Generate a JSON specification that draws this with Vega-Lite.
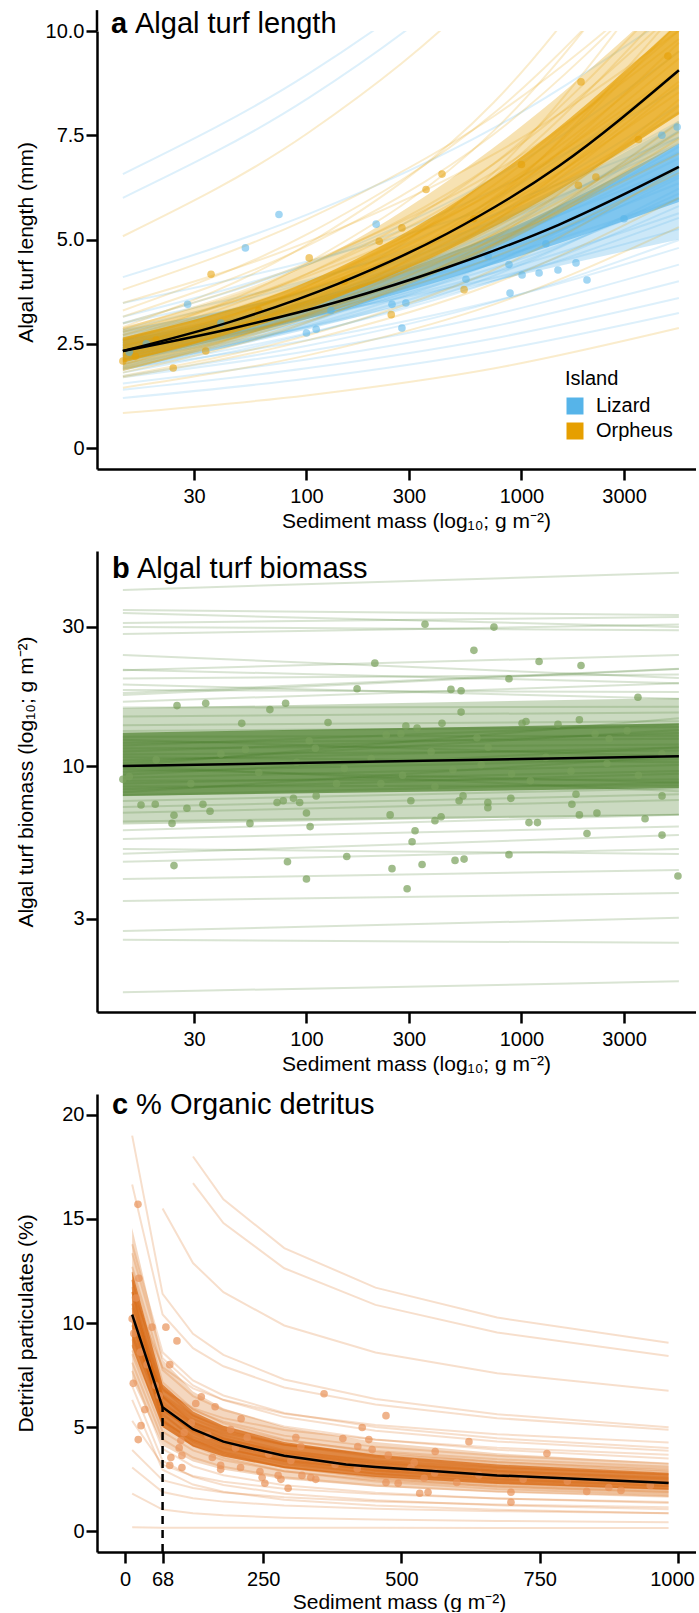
{
"$schema":"https://vega.github.io/schema/vega-lite/v6.json",
"padding":{"top":8,"left":15,"right":0,"bottom":0},
"bounds":"flush",
"spacing":82,
"config":{
 "view":{"stroke":null},
 "font":"Liberation Sans",
 "axis":{"domainColor":"black","domainWidth":2.5,"tickColor":"black","tickWidth":2.5,"tickSize":11,"labelColor":"black","labelFontSize":20,"titleFontSize":21,"titleFontWeight":"normal","titleColor":"black","grid":false,"labelFlush":false,"labelOverlap":false,"labelBound":false,"titleBaseline":"alphabetic"},
 "legend":{"labelFontSize":20,"titleFontSize":20,"titleFontWeight":"normal","labelColor":"black","titleColor":"black"}
},
"vconcat":[
{
"width":599,"height":438,
"layer":[
 {"data":{"values":[{"x":14,"lo":1.9,"hi":2.85},{"x":102,"lo":2.85,"hi":3.8},{"x":741,"lo":4.0,"hi":5.5},{"x":5400,"lo":5.0,"hi":7.8}]},
 "mark":{"type":"area","color":"#56B4E9","opacity":0.3,"interpolate":"monotone","clip":true},
 "encoding":{
  "x":{"field":"x","type":"quantitative","scale":{"type":"log","domain":[10.61,6486],"nice":false},"axis":{"values":[30,100,300,1000,3000],"format":"d","titleY":58,"titleX":319,"labelPadding":6},"title":"Sediment mass (log₁₀; g m⁻²)"},
  "y":{"field":"lo","type":"quantitative","scale":{"domain":[-0.5,10],"nice":false,"zero":false},"axis":{"values":[0,2.5,5,7.5,10],"labelExpr":"datum.value === 0 ? '0' : format(datum.value, '.1f')","titleX":-65,"titleY":211,"labelPadding":2},"title":"Algal turf length (mm)"},
  "y2":{"field":"hi"}
 }},
 {"data":{"values":[{"x":14,"lo":2.1,"hi":2.6},{"x":102,"lo":3.1,"hi":3.55},{"x":741,"lo":4.4,"hi":5.1},{"x":5400,"lo":5.9,"hi":7.3}]},
 "mark":{"type":"area","color":"#56B4E9","opacity":0.65,"interpolate":"monotone","clip":true},
 "encoding":{"x":{"field":"x","type":"quantitative"},"y":{"field":"lo","type":"quantitative"},"y2":{"field":"hi"}}},
 {"data":{"values":[
  {"id":1,"y0":2.33,"y1":3.32,"y2":4.73,"y3":6.74},
  {"id":2,"y0":2.45,"y1":3.47,"y2":4.91,"y3":6.95},
  {"id":3,"y0":2.22,"y1":3.18,"y2":4.56,"y3":6.54},
  {"id":4,"y0":2.58,"y1":3.61,"y2":5.06,"y3":7.09},
  {"id":5,"y0":2.11,"y1":3.06,"y2":4.45,"y3":6.48},
  {"id":6,"y0":2.52,"y1":3.43,"y2":4.67,"y3":6.35},
  {"id":7,"y0":2.15,"y1":3.22,"y2":4.83,"y3":7.23},
  {"id":8,"y0":2.71,"y1":3.79,"y2":5.32,"y3":7.45},
  {"id":9,"y0":2.01,"y1":2.91,"y2":4.21,"y3":6.10},
  {"id":10,"y0":2.63,"y1":3.46,"y2":4.54,"y3":5.98},
  {"id":11,"y0":2.07,"y1":3.19,"y2":4.92,"y3":7.60},
  {"id":12,"y0":2.85,"y1":3.99,"y2":5.59,"y3":7.83},
  {"id":13,"y0":1.91,"y1":2.76,"y2":4.00,"y3":5.80},
  {"id":14,"y0":2.40,"y1":3.53,"y2":5.18,"y3":7.60},
  {"id":15,"y0":2.26,"y1":3.13,"y2":4.32,"y3":5.98},
  {"id":16,"y0":2.79,"y1":3.74,"y2":5.02,"y3":6.74},
  {"id":17,"y0":1.95,"y1":2.94,"y2":4.45,"y3":6.74},
  {"id":18,"y0":2.33,"y1":3.53,"y2":5.33,"y3":8.07},
  {"id":19,"y0":2.33,"y1":3.13,"y2":4.20,"y3":5.63},
  {"id":20,"y0":2.99,"y1":4.03,"y2":5.42,"y3":7.30},
  {"id":21,"y0":1.81,"y1":2.74,"y2":4.13,"y3":6.22},
  {"id":22,"y0":2.58,"y1":3.79,"y2":5.59,"y3":8.23},
  {"id":23,"y0":2.11,"y1":2.91,"y2":4.00,"y3":5.52},
  {"id":24,"y0":3.15,"y1":4.41,"y2":6.18,"y3":8.65},
  {"id":25,"y0":1.73,"y1":2.46,"y2":3.50,"y3":4.99},
  {"id":26,"y0":3.48,"y1":4.48,"y2":5.78,"y3":7.45},
  {"id":27,"y0":2.47,"y1":3.18,"y2":4.08,"y3":5.25},
  {"id":28,"y0":1.87,"y1":3.01,"y2":4.86,"y3":7.83},
  {"id":29,"y0":6.57,"y1":8.97,"y2":12.24,"y3":16.7},
  {"id":30,"y0":6.0,"y1":8.39,"y2":11.73,"y3":16.4},
  {"id":31,"y0":1.2,"y1":1.67,"y2":2.33,"y3":3.24},
  {"id":32,"y0":1.4,"y1":1.92,"y2":2.63,"y3":3.6},
  {"id":33,"y0":1.55,"y1":2.13,"y2":2.92,"y3":4.0},
  {"id":34,"y0":1.7,"y1":2.33,"y2":3.2,"y3":4.4},
  {"id":35,"y0":4.1,"y1":5.61,"y2":7.67,"y3":10.5},
  {"id":36,"y0":3.0,"y1":4.41,"y2":6.47,"y3":9.5},
  {"id":37,"y0":2.6,"y1":3.93,"y2":5.95,"y3":9.0},
  {"id":38,"y0":1.9,"y1":2.59,"y2":3.52,"y3":4.8}
 ]},
 "transform":[{"fold":["y0","y1","y2","y3"]},{"lookup":"key","from":{"data":{"values":[{"key":"y0","x":14},{"key":"y1","x":102},{"key":"y2","x":741},{"key":"y3","x":5400}]},"key":"key","fields":["x"]}}],
 "mark":{"type":"line","strokeWidth":2,"opacity":0.2,"interpolate":"monotone","clip":true,"color":"#56B4E9"},
 "encoding":{"x":{"field":"x","type":"quantitative"},"y":{"field":"value","type":"quantitative"},"detail":{"field":"id"}}},
 {"data":{"values":[{"x":14,"lo":1.85,"hi":2.9},{"x":102,"lo":3.1,"hi":4.4},{"x":741,"lo":4.8,"hi":7.2},{"x":5400,"lo":7.3,"hi":11.0}]},
 "mark":{"type":"area","color":"#E69F00","opacity":0.3,"interpolate":"monotone","clip":true},
 "encoding":{"x":{"field":"x","type":"quantitative"},"y":{"field":"lo","type":"quantitative"},"y2":{"field":"hi"}}},
 {"data":{"values":[{"x":14,"lo":2.05,"hi":2.65},{"x":102,"lo":3.35,"hi":4.0},{"x":741,"lo":5.3,"hi":6.5},{"x":5400,"lo":8.0,"hi":10.2}]},
 "mark":{"type":"area","color":"#E69F00","opacity":0.65,"interpolate":"monotone","clip":true},
 "encoding":{"x":{"field":"x","type":"quantitative"},"y":{"field":"lo","type":"quantitative"},"y2":{"field":"hi"}}},
 {"data":{"values":[
  {"id":101,"y0":2.33,"y1":3.66,"y2":5.76,"y3":9.06},
  {"id":102,"y0":2.45,"y1":3.83,"y2":5.98,"y3":9.34},
  {"id":103,"y0":2.22,"y1":3.51,"y2":5.55,"y3":8.79},
  {"id":104,"y0":2.58,"y1":3.98,"y2":6.16,"y3":9.52},
  {"id":105,"y0":2.11,"y1":3.38,"y2":5.43,"y3":8.70},
  {"id":106,"y0":2.52,"y1":3.79,"y2":5.69,"y3":8.53},
  {"id":107,"y0":2.15,"y1":3.56,"y2":5.88,"y3":9.72},
  {"id":108,"y0":2.71,"y1":4.19,"y2":6.48,"y3":10.01},
  {"id":109,"y0":2.01,"y1":3.21,"y2":5.13,"y3":8.20},
  {"id":110,"y0":2.63,"y1":3.81,"y2":5.54,"y3":8.04},
  {"id":111,"y0":2.07,"y1":3.52,"y2":6.00,"y3":10.21},
  {"id":112,"y0":2.85,"y1":4.40,"y2":6.81,"y3":10.53},
  {"id":113,"y0":1.91,"y1":3.05,"y2":4.88,"y3":7.80},
  {"id":114,"y0":2.40,"y1":3.89,"y2":6.30,"y3":10.21},
  {"id":115,"y0":2.26,"y1":3.45,"y2":5.27,"y3":8.04},
  {"id":116,"y0":2.79,"y1":4.13,"y2":6.12,"y3":9.06},
  {"id":117,"y0":1.95,"y1":3.25,"y2":5.43,"y3":9.06},
  {"id":118,"y0":2.33,"y1":3.89,"y2":6.50,"y3":10.85},
  {"id":119,"y0":2.33,"y1":3.45,"y2":5.11,"y3":7.57},
  {"id":120,"y0":2.99,"y1":4.45,"y2":6.61,"y3":9.81},
  {"id":121,"y0":1.81,"y1":3.02,"y2":5.03,"y3":8.36},
  {"id":122,"y0":2.58,"y1":4.19,"y2":6.81,"y3":11.07},
  {"id":123,"y0":2.11,"y1":3.21,"y2":4.88,"y3":7.42},
  {"id":124,"y0":3.15,"y1":4.86,"y2":7.52,"y3":11.63},
  {"id":125,"y0":1.73,"y1":2.71,"y2":4.27,"y3":6.71},
  {"id":126,"y0":3.48,"y1":4.95,"y2":7.04,"y3":10.01},
  {"id":127,"y0":2.47,"y1":3.51,"y2":4.98,"y3":7.06},
  {"id":128,"y0":1.87,"y1":3.33,"y2":5.92,"y3":10.53},
  {"id":129,"y0":5.08,"y1":7.56,"y2":11.23,"y3":16.7},
  {"id":130,"y0":0.84,"y1":1.27,"y2":1.91,"y3":2.88},
  {"id":131,"y0":1.7,"y1":2.59,"y2":3.94,"y3":6.0},
  {"id":132,"y0":1.45,"y1":2.23,"y2":3.44,"y3":5.3},
  {"id":133,"y0":3.3,"y1":5.14,"y2":8.02,"y3":12.5},
  {"id":134,"y0":2.9,"y1":4.9,"y2":8.28,"y3":14},
  {"id":135,"y0":3.8,"y1":5.5,"y2":7.95,"y3":11.5},
  {"id":136,"y0":2.0,"y1":3.63,"y2":6.6,"y3":12},
  {"id":137,"y0":2.6,"y1":4.45,"y2":7.6,"y3":13},
  {"id":138,"y0":2.2,"y1":3.17,"y2":4.58,"y3":6.6}
 ]},
 "transform":[{"fold":["y0","y1","y2","y3"]},{"lookup":"key","from":{"data":{"values":[{"key":"y0","x":14},{"key":"y1","x":102},{"key":"y2","x":741},{"key":"y3","x":5400}]},"key":"key","fields":["x"]}}],
 "mark":{"type":"line","strokeWidth":2,"opacity":0.2,"interpolate":"monotone","clip":true,"color":"#E69F00"},
 "encoding":{"x":{"field":"x","type":"quantitative"},"y":{"field":"value","type":"quantitative"},"detail":{"field":"id"}}},
 {"data":{"values":[
  {"g":"Lizard","x":74.5,"y":5.6},{"g":"Lizard","x":52,"y":4.8},{"g":"Lizard","x":28,"y":3.45},{"g":"Lizard","x":100,"y":2.76},{"g":"Lizard","x":111,"y":2.85},{"g":"Lizard","x":211,"y":5.37},{"g":"Lizard","x":1794,"y":4.44},{"g":"Lizard","x":1479,"y":4.27},{"g":"Lizard","x":1208,"y":4.2},{"g":"Lizard","x":1007,"y":4.15},{"g":"Lizard","x":2018,"y":4.03},{"g":"Lizard","x":885,"y":3.72},{"g":"Lizard","x":875,"y":4.4},{"g":"Lizard","x":552,"y":4.05},{"g":"Lizard","x":250,"y":3.45},{"g":"Lizard","x":290,"y":3.48},{"g":"Lizard","x":278,"y":2.88},{"g":"Lizard","x":5300,"y":7.7},{"g":"Lizard","x":4500,"y":7.5},{"g":"Lizard","x":15,"y":2.3},{"g":"Lizard","x":18,"y":2.5},{"g":"Lizard","x":40,"y":3.0},{"g":"Lizard","x":130,"y":3.3},{"g":"Lizard","x":700,"y":4.6},{"g":"Lizard","x":1300,"y":4.9},{"g":"Lizard","x":3000,"y":5.5},
  {"g":"Orpheus","x":36,"y":4.17},{"g":"Orpheus","x":103,"y":4.56},{"g":"Orpheus","x":24,"y":1.92},{"g":"Orpheus","x":14,"y":2.09},{"g":"Orpheus","x":34,"y":2.33},{"g":"Orpheus","x":1893,"y":8.78},{"g":"Orpheus","x":427,"y":6.57},{"g":"Orpheus","x":360,"y":6.2},{"g":"Orpheus","x":278,"y":5.28},{"g":"Orpheus","x":218,"y":4.96},{"g":"Orpheus","x":3500,"y":7.4},{"g":"Orpheus","x":2220,"y":6.5},{"g":"Orpheus","x":1840,"y":6.3},{"g":"Orpheus","x":541,"y":3.8},{"g":"Orpheus","x":248,"y":3.2},{"g":"Orpheus","x":16,"y":2.2},{"g":"Orpheus","x":20,"y":2.6},{"g":"Orpheus","x":60,"y":3.3},{"g":"Orpheus","x":150,"y":4.0},{"g":"Orpheus","x":600,"y":5.5},{"g":"Orpheus","x":1000,"y":6.8},{"g":"Orpheus","x":4800,"y":9.4}
 ]},
 "mark":{"type":"circle","size":58,"opacity":0.55},
 "encoding":{
  "x":{"field":"x","type":"quantitative"},
  "y":{"field":"y","type":"quantitative"},
  "fill":{"field":"g","type":"nominal","scale":{"domain":["Lizard","Orpheus"],"range":["#56B4E9","#E69F00"]},"legend":{"title":"Island","orient":"none","legendX":468,"legendY":338,"symbolType":"square","symbolSize":289,"symbolOpacity":1,"symbolStrokeWidth":0,"labelOffset":11,"rowPadding":5,"titlePadding":7,"labelFontSize":20,"titleFontSize":20}}
 }},
 {"data":{"values":[
  {"g":"Lizard","x":14,"y":2.33},{"g":"Lizard","x":45,"y":2.87},{"g":"Lizard","x":140,"y":3.51},{"g":"Lizard","x":450,"y":4.33},{"g":"Lizard","x":1500,"y":5.36},{"g":"Lizard","x":5400,"y":6.74},
  {"g":"Orpheus","x":14,"y":2.33},{"g":"Orpheus","x":45,"y":3.04},{"g":"Orpheus","x":140,"y":3.94},{"g":"Orpheus","x":450,"y":5.14},{"g":"Orpheus","x":1500,"y":6.77},{"g":"Orpheus","x":5400,"y":9.06}
 ]},
 "mark":{"type":"line","color":"black","strokeWidth":2.5,"interpolate":"monotone"},
 "encoding":{"x":{"field":"x","type":"quantitative"},"y":{"field":"y","type":"quantitative"},"detail":{"field":"g"}}},
 {"data":{"values":[{"x":10.61,"y":10,"y2":10.5}]},
 "mark":{"type":"rule","color":"black","strokeWidth":2.5},
 "encoding":{"x":{"field":"x","type":"quantitative"},"y":{"field":"y","type":"quantitative"},"y2":{"field":"y2"}}},
 {"data":{"values":[{"x":12.33,"y":9.95,"t":"a"}]},
 "mark":{"type":"text","fontSize":29,"fontWeight":"bold","align":"left","baseline":"alphabetic","color":"black"},
 "encoding":{"x":{"field":"x","type":"quantitative"},"y":{"field":"y","type":"quantitative"},"text":{"field":"t"}}},
 {"data":{"values":[{"x":15.94,"y":9.95,"t":"Algal turf length"}]},
 "mark":{"type":"text","fontSize":29,"align":"left","baseline":"alphabetic","color":"black"},
 "encoding":{"x":{"field":"x","type":"quantitative"},"y":{"field":"y","type":"quantitative"},"text":{"field":"t"}}}
]
},
{
"width":599,"height":461,
"layer":[
 {"data":{"values":[{"x":14,"lo":6.3,"hi":15.8},{"x":5400,"lo":6.8,"hi":17.1}]},
 "mark":{"type":"area","color":"#437a22","opacity":0.28},
 "encoding":{
  "x":{"field":"x","type":"quantitative","scale":{"type":"log","domain":[10.61,6486],"nice":false},"axis":{"values":[30,100,300,1000,3000],"format":"d","titleY":58,"titleX":319,"labelPadding":6},"title":"Sediment mass (log₁₀; g m⁻²)"},
  "y":{"field":"lo","type":"quantitative","scale":{"type":"log","domain":[1.437,54.5],"nice":false},"axis":{"values":[3,10,30],"format":"d","titleX":-65,"labelPadding":2},"title":"Algal turf biomass (log₁₀; g m⁻²)"},
  "y2":{"field":"hi"}
 }},
 {"data":{"values":[{"x":14,"lo":7.9,"hi":13.0},{"x":5400,"lo":8.4,"hi":14.0}]},
 "mark":{"type":"area","color":"#437a22","opacity":0.65},
 "encoding":{"x":{"field":"x","type":"quantitative"},"y":{"field":"lo","type":"quantitative"},"y2":{"field":"hi"}}},
 {"data":{"values":[
  {"id":1,"y0":10.0,"y1":10.8},{"id":2,"y0":10.47,"y1":11.58},{"id":3,"y0":9.55,"y1":10.55},{"id":4,"y0":10.96,"y1":11.3},{"id":5,"y0":9.12,"y1":10.08},{"id":6,"y0":11.48,"y1":11.84},{"id":7,"y0":8.71,"y1":9.62},{"id":8,"y0":10.72,"y1":10.31},{"id":9,"y0":9.33,"y1":11.58},{"id":10,"y0":12.02,"y1":12.4},{"id":11,"y0":8.32,"y1":9.41},{"id":12,"y0":11.22,"y1":12.98},{"id":13,"y0":8.91,"y1":8.99},{"id":14,"y0":12.59,"y1":12.69},{"id":15,"y0":7.94,"y1":8.78},{"id":16,"y0":11.75,"y1":13.91},{"id":17,"y0":8.51,"y1":8.58},{"id":18,"y0":13.18,"y1":13.6},{"id":19,"y0":7.59,"y1":8.38},{"id":20,"y0":10.23,"y1":13.28},{"id":21,"y0":9.77,"y1":8.78},{"id":22,"y0":12.3,"y1":10.8},{"id":23,"y0":8.13,"y1":10.8},{"id":24,"y0":13.8,"y1":14.23},{"id":25,"y0":7.24,"y1":8.0},{"id":26,"y0":10.0,"y1":14.57},{"id":27,"y0":10.0,"y1":8.2},
  {"id":28,"y0":14.79,"y1":15.26},{"id":29,"y0":6.92,"y1":7.65},{"id":30,"y0":15.85,"y1":15.97},{"id":31,"y0":6.46,"y1":6.81},{"id":32,"y0":16.6,"y1":19.2},{"id":33,"y0":6.03,"y1":6.81},{"id":34,"y0":18.2,"y1":17.93},{"id":35,"y0":5.62,"y1":6.21},{"id":36,"y0":19.95,"y1":20.57},{"id":37,"y0":5.01,"y1":5.8},{"id":38,"y0":17.78,"y1":21.55},{"id":39,"y0":21.38,"y1":19.2},
  {"id":40,"y0":34.2,"y1":32.9},{"id":41,"y0":33.4,"y1":29.9},{"id":42,"y0":30.9,"y1":32.4},{"id":43,"y0":29.9,"y1":29.2},{"id":44,"y0":28.3,"y1":30.5},{"id":45,"y0":40.1,"y1":45.9},{"id":46,"y0":4.1,"y1":4.4},{"id":47,"y0":3.45,"y1":3.67},{"id":48,"y0":2.72,"y1":3.02},{"id":49,"y0":2.54,"y1":2.48},{"id":50,"y0":1.68,"y1":1.83},{"id":51,"y0":21.3,"y1":24},{"id":52,"y0":19,"y1":17},{"id":53,"y0":4.7,"y1":5.2},{"id":54,"y0":5.2,"y1":5.0},{"id":55,"y0":24,"y1":20},{"id":56,"y0":17.5,"y1":21.5}
 ]},
 "transform":[{"fold":["y0","y1"]},{"lookup":"key","from":{"data":{"values":[{"key":"y0","x":14},{"key":"y1","x":5400}]},"key":"key","fields":["x"]}}],
 "mark":{"type":"line","strokeWidth":2,"opacity":0.2,"color":"#437a22"},
 "encoding":{"x":{"field":"x","type":"quantitative"},"y":{"field":"value","type":"quantitative"},"detail":{"field":"id"}}},
 {"data":{"values":[
  {"x":25,"y":16.1},{"x":34,"y":16.4},{"x":50,"y":14.0},{"x":67.6,"y":15.6},{"x":80,"y":16.4},{"x":126,"y":14.1},{"x":103,"y":12.2},{"x":52,"y":11.4},{"x":14,"y":9.0},
  {"x":356,"y":30.6},{"x":745,"y":29.9},{"x":208,"y":22.5},{"x":601,"y":24.9},{"x":1208,"y":22.8},{"x":1893,"y":22.1},{"x":172,"y":18.4},{"x":470,"y":18.3},{"x":524,"y":18.1},{"x":875,"y":19.9},{"x":3483,"y":17.2},{"x":524,"y":15.3},{"x":290,"y":13.7},{"x":327,"y":13.5},{"x":235,"y":12.8},{"x":275,"y":12.9},{"x":427,"y":14.0},{"x":1007,"y":14.0},{"x":1050,"y":14.2},{"x":1479,"y":13.9},{"x":1860,"y":14.4},{"x":621,"y":12.5},{"x":2200,"y":12.9},{"x":3100,"y":13.2},{"x":2560,"y":12.4},
  {"x":17,"y":7.35},{"x":19.8,"y":7.4},{"x":24.2,"y":6.78},{"x":23.7,"y":6.36},{"x":27.8,"y":7.17},{"x":33,"y":7.4},{"x":35.6,"y":7.0},{"x":54.6,"y":6.36},{"x":73,"y":7.5},{"x":78,"y":7.6},{"x":87,"y":7.75},{"x":93,"y":7.5},{"x":111,"y":7.9},{"x":100,"y":6.9},{"x":104,"y":6.2},{"x":24.2,"y":4.56},{"x":81.6,"y":4.7},{"x":100,"y":4.1},{"x":154,"y":4.9},{"x":138,"y":8.7},{"x":29,"y":8.7},
  {"x":222,"y":8.7},{"x":396,"y":8.5},{"x":306,"y":7.6},{"x":245,"y":6.8},{"x":513,"y":7.6},{"x":535,"y":7.9},{"x":698,"y":7.5},{"x":698,"y":7.2},{"x":893,"y":7.75},{"x":1794,"y":8.0},{"x":1717,"y":7.4},{"x":1860,"y":6.8},{"x":2245,"y":6.9},{"x":4508,"y":7.9},{"x":3758,"y":6.6},{"x":4508,"y":5.8},{"x":2018,"y":5.87},{"x":1084,"y":6.4},{"x":1187,"y":6.4},{"x":396,"y":6.5},{"x":423,"y":6.7},{"x":320,"y":6.0},{"x":310,"y":5.5},{"x":250,"y":4.45},{"x":345,"y":4.6},{"x":491,"y":4.75},{"x":541,"y":4.8},{"x":875,"y":4.97},{"x":294,"y":3.8},{"x":5346,"y":4.2},
  {"x":15,"y":9.2},{"x":20,"y":10.5},{"x":40,"y":11},{"x":60,"y":9.5},{"x":90,"y":10.3},{"x":150,"y":9.8},{"x":200,"y":10.6},{"x":280,"y":9.3},{"x":380,"y":11.2},{"x":480,"y":9.7},{"x":650,"y":10.1},{"x":900,"y":9.4},{"x":1300,"y":10.7},{"x":1700,"y":9.6},{"x":2500,"y":10.2},{"x":3500,"y":9.3},{"x":4500,"y":11},{"x":110,"y":11.5},{"x":700,"y":11.6},{"x":1100,"y":8.9}
 ]},
 "mark":{"type":"circle","size":58,"opacity":0.7,"color":"#77a05a"},
 "encoding":{"x":{"field":"x","type":"quantitative"},"y":{"field":"y","type":"quantitative"}}},
 {"data":{"values":[{"x":14,"y":10.0},{"x":5400,"y":10.8}]},
 "mark":{"type":"line","color":"black","strokeWidth":2.5},
 "encoding":{"x":{"field":"x","type":"quantitative"},"y":{"field":"y","type":"quantitative"}}},
 {"data":{"values":[{"x":12.47,"y":44.0,"t":"b"}]},
 "mark":{"type":"text","fontSize":29,"fontWeight":"bold","align":"left","baseline":"alphabetic","color":"black"},
 "encoding":{"x":{"field":"x","type":"quantitative"},"y":{"field":"y","type":"quantitative"},"text":{"field":"t"}}},
 {"data":{"values":[{"x":16.29,"y":44.0,"t":"Algal turf biomass"}]},
 "mark":{"type":"text","fontSize":29,"align":"left","baseline":"alphabetic","color":"black"},
 "encoding":{"x":{"field":"x","type":"quantitative"},"y":{"field":"y","type":"quantitative"},"text":{"field":"t"}}}
]
},
{
"width":599,"height":458,
"layer":[
 {"data":{"values":[{"x":13,"lo":7.28,"hi":14.56},{"x":68,"lo":4.12,"hi":8.23},{"x":123,"lo":3.35,"hi":6.71},{"x":178,"lo":2.95,"hi":5.91},{"x":288,"lo":2.5,"hi":5.0},{"x":453,"lo":2.14,"hi":4.28},{"x":673,"lo":1.87,"hi":3.74},{"x":983,"lo":1.64,"hi":3.28}]},
 "mark":{"type":"area","color":"#D55E00","opacity":0.25},
 "encoding":{
  "x":{"field":"x","type":"quantitative","scale":{"domain":[-50.6,1032.6],"nice":false,"zero":false},"axis":{"values":[0,68,250,500,750,1000],"format":"d","titleY":56,"titleX":302,"labelPadding":6,"labelOffset":{"condition":{"test":"datum.value === 1000","value":-6},"value":0}},"title":"Sediment mass (g m⁻²)"},
  "y":{"field":"lo","type":"quantitative","scale":{"domain":[-1,21],"nice":false,"zero":false},"axis":{"values":[0,5,10,15,20],"titleX":-65,"labelPadding":2},"title":"Detrital particulates (%)"},
  "y2":{"field":"hi"}
 }},
 {"data":{"values":[{"x":13,"lo":8.84,"hi":12.48},{"x":68,"lo":5.0,"hi":7.06},{"x":123,"lo":4.07,"hi":5.75},{"x":178,"lo":3.59,"hi":5.06},{"x":288,"lo":3.03,"hi":4.28},{"x":453,"lo":2.6,"hi":3.67},{"x":673,"lo":2.27,"hi":3.2},{"x":983,"lo":1.99,"hi":2.81}]},
 "mark":{"type":"area","color":"#D55E00","opacity":0.65},
 "encoding":{"x":{"field":"x","type":"quantitative"},"y":{"field":"lo","type":"quantitative"},"y2":{"field":"hi"}}},
 {"data":{"values":[
  {"id":1,"y0":10.4,"y1":5.88,"y2":4.79,"y3":4.22,"y4":3.57,"y5":3.06,"y6":2.67,"y7":2.34},
  {"id":2,"y0":10.93,"y1":6.21,"y2":5.06,"y3":4.46,"y4":3.78,"y5":3.24,"y6":2.83,"y7":2.48},
  {"id":3,"y0":9.89,"y1":5.57,"y2":4.53,"y3":3.99,"y4":3.37,"y5":2.89,"y6":2.52,"y7":2.20},
  {"id":4,"y0":11.49,"y1":6.45,"y2":5.24,"y3":4.61,"y4":3.89,"y5":3.33,"y6":2.90,"y7":2.53},
  {"id":5,"y0":9.41,"y1":5.32,"y2":4.33,"y3":3.82,"y4":3.23,"y5":2.77,"y6":2.42,"y7":2.12},
  {"id":6,"y0":11.27,"y1":5.99,"y2":4.78,"y3":4.15,"y4":3.45,"y5":2.91,"y6":2.50,"y7":2.16},
  {"id":7,"y0":9.60,"y1":5.81,"y2":4.86,"y3":4.34,"y4":3.75,"y5":3.27,"y6":2.90,"y7":2.59},
  {"id":8,"y0":12.08,"y1":6.83,"y2":5.57,"y3":4.90,"y4":4.15,"y5":3.56,"y6":3.10,"y7":2.72},
  {"id":9,"y0":8.95,"y1":5.06,"y2":4.12,"y3":3.63,"y4":3.07,"y5":2.63,"y6":2.30,"y7":2.01},
  {"id":10,"y0":11.73,"y1":5.98,"y2":4.69,"y3":4.04,"y4":3.32,"y5":2.76,"y6":2.35,"y7":2.01},
  {"id":11,"y0":9.22,"y1":5.78,"y2":4.89,"y3":4.41,"y4":3.84,"y5":3.39,"y6":3.03,"y7":2.72},
  {"id":12,"y0":12.45,"y1":7.15,"y2":5.86,"y3":5.18,"y4":4.40,"y5":3.79,"y6":3.32,"y7":2.92},
  {"id":13,"y0":8.51,"y1":4.78,"y2":3.88,"y3":3.41,"y4":2.88,"y5":2.46,"y6":2.15,"y7":1.88},
  {"id":14,"y0":10.72,"y1":6.47,"y2":5.39,"y3":4.82,"y4":4.16,"y5":3.63,"y6":3.21,"y7":2.86},
  {"id":15,"y0":10.09,"y1":5.35,"y2":4.26,"y3":3.70,"y4":3.07,"y5":2.58,"y6":2.22,"y7":1.92},
  {"id":16,"y0":12.08,"y1":6.45,"y2":5.15,"y3":4.48,"y4":3.73,"y5":3.14,"y6":2.71,"y7":2.34},
  {"id":17,"y0":8.69,"y1":5.26,"y2":4.39,"y3":3.93,"y4":3.39,"y5":2.96,"y6":2.63,"y7":2.34},
  {"id":18,"y0":10.4,"y1":6.54,"y2":5.54,"y3":5.00,"y4":4.36,"y5":3.85,"y6":3.45,"y7":3.10},
  {"id":19,"y0":10.4,"y1":5.24,"y2":4.10,"y3":3.52,"y4":2.88,"y5":2.39,"y6":2.03,"y7":1.73},
  {"id":20,"y0":8.10,"y1":4.41,"y2":3.54,"y3":3.09,"y4":2.59,"y5":2.20,"y6":1.90,"y7":1.65},
  {"id":21,"y0":12.70,"y1":7.75,"y2":6.49,"y3":5.82,"y4":5.03,"y5":4.40,"y6":3.91,"y7":3.49},
  {"id":22,"y0":7.70,"y1":3.96,"y2":3.12,"y3":2.69,"y4":2.21,"y5":1.85,"y6":1.57,"y7":1.35},
  {"id":23,"y0":13.35,"y1":8.31,"y2":7.00,"y3":6.30,"y4":5.48,"y5":4.82,"y6":4.31,"y7":3.86},
  {"id":24,"y0":6.97,"y1":3.38,"y2":2.61,"y3":2.22,"y4":1.80,"y5":1.48,"y6":1.24,"y7":1.05},
  {"id":25,"y0":6.31,"y1":2.95,"y2":2.24,"y3":1.89,"y4":1.51,"y5":1.23,"y6":1.03,"y7":0.86},
  {"id":26,"y0":10.93,"y1":6.88,"y2":5.82,"y3":5.26,"y4":4.59,"y5":4.05,"y6":3.62,"y7":3.25},
  {"id":27,"y0":9.41,"y1":6.08,"y2":5.20,"y3":4.72,"y4":4.15,"y5":3.69,"y6":3.32,"y7":3.00},
  {"id":28,"y0":11.49,"y1":5.68,"y2":4.41,"y3":3.77,"y4":3.07,"y5":2.54,"y6":2.14,"y7":1.82},
  {"id":29,"y0":19.0,"y1":11.40,"y2":9.48,"y3":8.47,"y4":7.29,"y5":6.35,"y6":5.62,"y7":4.99},
  {"id":30,"y0":16.65,"y1":10.41,"y2":8.79,"y3":7.92,"y4":6.90,"y5":6.08,"y6":5.43,"y7":4.87},
  {"id":31,"y0":13.78,"y1":8.59,"y2":7.24,"y3":6.52,"y4":5.68,"y5":5.00,"y6":4.46,"y7":4.00},
  {"id":32,"y0":3.06,"y1":1.88,"y2":1.58,"y3":1.42,"y4":1.23,"y5":1.08,"y6":0.96,"y7":0.86},
  {"id":33,"y0":1.80,"y1":1.04,"y2":0.86,"y3":0.76,"y4":0.65,"y5":0.56,"y6":0.49,"y7":0.43},
  {"id":34,"y0":0.19,"y1":0.17,"y2":0.17,"y3":0.17,"y4":0.16,"y5":0.16,"y6":0.15,"y7":0.15},
  {"id":35,"y0":3.90,"y1":2.45,"y2":2.07,"y3":1.86,"y4":1.63,"y5":1.43,"y6":1.28,"y7":1.15},
  {"id":36,"y0":5.30,"y1":3.19,"y2":2.65,"y3":2.37,"y4":2.04,"y5":1.78,"y6":1.57,"y7":1.40},
  {"id":37,"y0":null,"y1":null,"y2":18.0,"y3":15.94,"y4":13.6,"y5":11.7,"y6":10.26,"y7":9.05},
  {"id":38,"y0":null,"y1":null,"y2":16.72,"y3":14.8,"y4":12.63,"y5":10.87,"y6":9.54,"y7":8.42},
  {"id":39,"y0":null,"y1":15.5,"y2":12.88,"y3":11.48,"y4":9.88,"y5":8.58,"y6":7.59,"y7":6.75},
  {"id":40,"y0":11.49,"y1":7.87,"y2":6.86,"y3":6.31,"y4":5.64,"y5":5.10,"y6":4.66,"y7":4.26},
  {"id":41,"y0":9.89,"y1":6.77,"y2":5.91,"y3":5.43,"y4":4.86,"y5":4.39,"y6":4.01,"y7":3.67}
 ]},
 "transform":[{"fold":["y0","y1","y2","y3","y4","y5","y6","y7"]},{"lookup":"key","from":{"data":{"values":[{"key":"y0","x":13},{"key":"y1","x":68},{"key":"y2","x":123},{"key":"y3","x":178},{"key":"y4","x":288},{"key":"y5","x":453},{"key":"y6","x":673},{"key":"y7","x":983}]},"key":"key","fields":["x"]}}],
 "mark":{"type":"line","strokeWidth":2,"opacity":0.2,"color":"#D55E00"},
 "encoding":{"x":{"field":"x","type":"quantitative"},"y":{"field":"value","type":"quantitative"},"detail":{"field":"id"}}},
 {"data":{"values":[
  {"x":23.5,"y":15.7},{"x":25,"y":12.15},{"x":49,"y":9.8},{"x":74,"y":9.8},{"x":94,"y":9.14},{"x":13,"y":10.2},{"x":81,"y":8.0},{"x":15,"y":7.1},{"x":36,"y":5.84},{"x":29,"y":5.07},{"x":24,"y":4.4},{"x":138,"y":6.46},{"x":128,"y":6.13},{"x":163,"y":5.98},{"x":210,"y":5.4},{"x":360,"y":6.6},{"x":107,"y":4.74},{"x":101,"y":4.35},{"x":98,"y":4.0},{"x":103,"y":3.64},{"x":83,"y":3.54},{"x":81,"y":3.16},{"x":103,"y":3.06},{"x":158,"y":3.54},{"x":173,"y":3.16},{"x":173,"y":2.97},{"x":209,"y":3.06},{"x":191,"y":4.88},{"x":221,"y":4.5},{"x":244,"y":2.87},{"x":248,"y":2.58},{"x":253,"y":2.3},{"x":277,"y":2.68},{"x":282,"y":2.49},{"x":295,"y":2.06},{"x":309,"y":4.5},{"x":318,"y":4.07},{"x":320,"y":2.68},{"x":336,"y":2.58},{"x":345,"y":2.49},{"x":394,"y":4.45},{"x":472,"y":5.55},{"x":429,"y":4.98},{"x":441,"y":4.4},{"x":421,"y":4.07},{"x":447,"y":3.92},{"x":476,"y":3.64},{"x":622,"y":4.3},{"x":561,"y":3.83},{"x":763,"y":3.73},{"x":523,"y":3.3},{"x":472,"y":2.34},{"x":494,"y":2.3},{"x":533,"y":1.82},{"x":548,"y":1.87},{"x":698,"y":1.87},{"x":698,"y":1.39},{"x":835,"y":1.91},{"x":875,"y":2.1},{"x":897,"y":1.96},{"x":600,"y":2.34},{"x":541,"y":2.54},{"x":517,"y":3.06},
  {"x":16,"y":9.5},{"x":20,"y":11.2},{"x":28,"y":8.6},{"x":40,"y":8.0},{"x":55,"y":7.0},{"x":62,"y":6.5},{"x":120,"y":5.2},{"x":150,"y":4.6},{"x":200,"y":4.0},{"x":260,"y":3.7},{"x":300,"y":3.4},{"x":380,"y":3.2},{"x":420,"y":3.0},{"x":560,"y":2.8},{"x":640,"y":2.7},{"x":720,"y":2.5},{"x":800,"y":2.4},{"x":950,"y":2.2}
 ]},
 "mark":{"type":"circle","size":58,"opacity":0.7,"color":"#e8935a"},
 "encoding":{"x":{"field":"x","type":"quantitative"},"y":{"field":"y","type":"quantitative"}}},
 {"data":{"values":[{"x":13,"y":10.4},{"x":68,"y":5.95},{"x":123,"y":4.9},{"x":178,"y":4.3},{"x":233,"y":3.95},{"x":288,"y":3.62},{"x":400,"y":3.2},{"x":453,"y":3.08},{"x":673,"y":2.68},{"x":983,"y":2.32}]},
 "mark":{"type":"line","color":"black","strokeWidth":2.5},
 "encoding":{"x":{"field":"x","type":"quantitative"},"y":{"field":"y","type":"quantitative"}}},
 {"data":{"values":[{"x":68,"y":-1,"y2":5.95}]},
 "mark":{"type":"rule","color":"black","strokeWidth":2.5,"strokeDash":[8,6]},
 "encoding":{"x":{"field":"x","type":"quantitative"},"y":{"field":"y","type":"quantitative"},"y2":{"field":"y2"}}},
 {"data":{"values":[{"x":-23.5,"y":20.04,"t":"c"}]},
 "mark":{"type":"text","fontSize":29,"fontWeight":"bold","align":"left","baseline":"alphabetic","color":"black"},
 "encoding":{"x":{"field":"x","type":"quantitative"},"y":{"field":"y","type":"quantitative"},"text":{"field":"t"}}},
 {"data":{"values":[{"x":20,"y":20.04,"t":"% Organic detritus"}]},
 "mark":{"type":"text","fontSize":29,"align":"left","baseline":"alphabetic","color":"black"},
 "encoding":{"x":{"field":"x","type":"quantitative"},"y":{"field":"y","type":"quantitative"},"text":{"field":"t"}}}
]
}
]
}
